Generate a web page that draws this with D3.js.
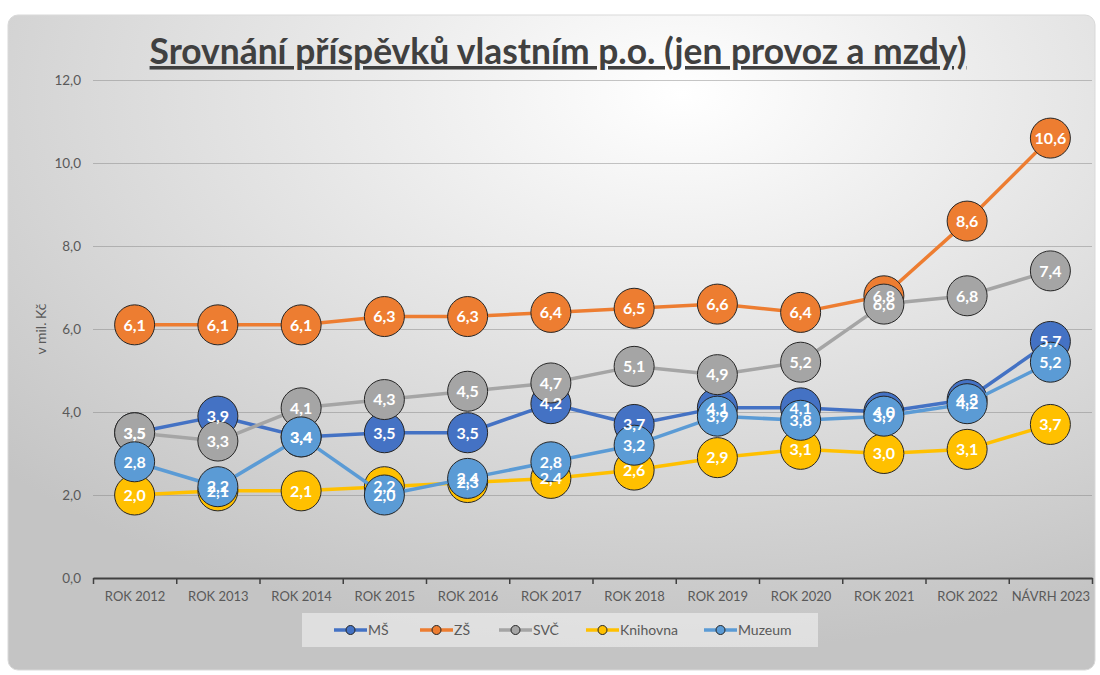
<!DOCTYPE html>
<html>
<head>
<meta charset="utf-8">
<script src="https://cdn.jsdelivr.net/npm/d3@7"></script>
<style>
  body { margin: 0; background: #fff; }
  svg { display: block; font-family: Lato, 'Noto Sans', sans-serif; }
</style>
</head>
<body>
<div id="chart"></div>
<script>
const categories = ['ROK 2012', 'ROK 2013', 'ROK 2014', 'ROK 2015', 'ROK 2016', 'ROK 2017',
  'ROK 2018', 'ROK 2019', 'ROK 2020', 'ROK 2021', 'ROK 2022', 'NÁVRH 2023'];
const seriesNames = ['MŠ', 'ZŠ', 'SVČ', 'Knihovna', 'Muzeum'];
const msValues = [3.5, 3.9, 3.4, 3.5, 3.5, 4.2, 3.7, 4.1, 4.1, 4.0, 4.3, 5.7];
const zsValues = [6.1, 6.1, 6.1, 6.3, 6.3, 6.4, 6.5, 6.6, 6.4, 6.8, 8.6, 10.6];
const svcValues = [3.5, 3.3, 4.1, 4.3, 4.5, 4.7, 5.1, 4.9, 5.2, 6.6, 6.8, 7.4];
const knihovnaValues = [2.0, 2.1, 2.1, 2.2, 2.3, 2.4, 2.6, 2.9, 3.1, 3.0, 3.1, 3.7];
const muzeumValues = [2.8, 2.2, 3.4, 2.0, 2.4, 2.8, 3.2, 3.9, 3.8, 3.9, 4.2, 5.2];
const yTicks = [0, 2, 4, 6, 8, 10, 12];

const colors = ['#4472C4', '#ED7D31', '#A5A5A5', '#FFC000', '#5B9BD5'];
const allValues = [msValues, zsValues, svcValues, knihovnaValues, muzeumValues];

const W = 1100, H = 675;
const margin = { top: 80, right: 8, bottom: 97, left: 93 };
const width = W - margin.left - margin.right;
const height = H - margin.top - margin.bottom;

const cz = d3.formatLocale({ decimal: ',', thousands: ' ', grouping: [3], currency: ['', ' Kč'] });
const fmt = cz.format('.1f');

const svg = d3.select('#chart').append('svg')
  .attr('width', W)
  .attr('height', H);

// background card
const defs = svg.append('defs');
const grad = defs.append('radialGradient')
  .attr('id', 'bg')
  .attr('cx', '0.62').attr('cy', '0.12').attr('r', '0.85');
grad.append('stop').attr('offset', '0%').attr('stop-color', '#ffffff');
grad.append('stop').attr('offset', '100%').attr('stop-color', '#c4c4c4');

svg.append('rect')
  .attr('x', 8).attr('y', 15)
  .attr('width', 1087).attr('height', 655)
  .attr('rx', 10)
  .attr('fill', 'url(#bg)')
  .attr('stroke', '#d9d9d9');

// title, sized to span the same width as the original
const title = svg.append('text')
  .attr('x', 558).attr('y', 64)
  .attr('text-anchor', 'middle')
  .style('font-size', '30px')
  .style('font-weight', 'bold')
  .style('text-decoration', 'underline')
  .attr('fill', '#404040')
  .text('Srovnání příspěvků vlastním p.o. (jen provoz a mzdy)');
const tw = title.node().getComputedTextLength();
title.style('font-size', (30 * 817 / tw) + 'px');

const g = svg.append('g')
  .attr('transform', 'translate(' + margin.left + ',' + margin.top + ')');

const x = d3.scalePoint()
  .domain(categories)
  .range([0, width])
  .padding(0.5);

const xEdges = d3.scaleLinear()
  .domain([0, categories.length])
  .range([0, width]);

const y = d3.scaleLinear()
  .domain([0, 12])
  .range([height, 0]);

// gridlines + y labels
const yAxis = g.append('g')
  .call(d3.axisLeft(y).tickValues(yTicks).tickFormat(fmt).tickSize(-width).tickPadding(12));
yAxis.select('.domain').remove();
yAxis.selectAll('.tick line')
  .attr('stroke', '#808080')
  .attr('stroke-opacity', 0.45);
yAxis.selectAll('.tick text')
  .attr('fill', '#595959')
  .style('font-size', '13.5px')
  .style('font-family', 'Lato, sans-serif');

// x axis line with boundary ticks
const xTickAxis = g.append('g')
  .attr('transform', 'translate(0,' + height + ')')
  .call(d3.axisBottom(xEdges).tickValues(d3.range(0, categories.length + 1)).tickFormat('').tickSize(6).tickSizeOuter(0));
xTickAxis.select('.domain').attr('stroke', '#404040').attr('stroke-width', 2);
xTickAxis.selectAll('.tick line').attr('stroke', '#404040').attr('stroke-width', 1.5);

const xAxis = g.append('g')
  .attr('transform', 'translate(0,' + height + ')')
  .call(d3.axisBottom(x).tickSize(0).tickPadding(14));
xAxis.select('.domain').remove();
xAxis.selectAll('.tick text')
  .attr('fill', '#595959')
  .style('font-size', '13px')
  .style('font-family', 'Lato, sans-serif');

// y axis title
svg.append('text')
  .attr('transform', 'translate(46,' + (margin.top + height / 2) + ') rotate(-90)')
  .attr('text-anchor', 'middle')
  .attr('fill', '#595959')
  .style('font-size', '14px')
  .text('v mil. Kč');

const line = d3.line()
  .x((d, i) => x(categories[i]))
  .y(d => y(d));

// series: line then markers, in series order
allValues.forEach((vals, s) => {
  const sg = g.append('g');
  sg.append('path')
    .datum(vals)
    .attr('d', line)
    .attr('fill', 'none')
    .attr('stroke', colors[s])
    .attr('stroke-width', 3.5)
    .attr('stroke-linejoin', 'round');
  sg.selectAll('circle')
    .data(vals)
    .enter()
    .append('circle')
    .attr('cx', (d, i) => x(categories[i]))
    .attr('cy', d => y(d))
    .attr('r', 20)
    .attr('fill', colors[s])
    .attr('stroke', '#262626')
    .attr('stroke-width', 1);
});

// data labels on top
allValues.forEach((vals, s) => {
  g.append('g').selectAll('text')
    .data(vals)
    .enter()
    .append('text')
    .attr('x', (d, i) => x(categories[i]))
    .attr('y', d => y(d))
    .attr('dy', '0.36em')
    .attr('text-anchor', 'middle')
    .attr('fill', '#ffffff')
    .style('font-size', '16px')
    .style('font-weight', 'bold')
    .text(d => fmt(d));
});

// legend
const legend = svg.append('g');
legend.append('rect')
  .attr('x', 302).attr('y', 613)
  .attr('width', 516).attr('height', 34)
  .attr('fill', '#f2f2f2')
  .attr('fill-opacity', 0.6);

const legendX = [334, 420, 499, 586, 704];
seriesNames.forEach((name, s) => {
  const lg = legend.append('g')
    .attr('transform', 'translate(' + legendX[s] + ',630)');
  lg.append('line')
    .attr('x1', 0).attr('x2', 33)
    .attr('stroke', colors[s])
    .attr('stroke-width', 3.5);
  lg.append('circle')
    .attr('cx', 16.5).attr('r', 4.5)
    .attr('fill', colors[s])
    .attr('stroke', '#262626')
    .attr('stroke-width', 1);
  lg.append('text')
    .attr('x', 34).attr('dy', '0.35em')
    .attr('fill', '#595959')
    .style('font-size', '14px')
    .text(name);
});
</script>
</body>
</html>
